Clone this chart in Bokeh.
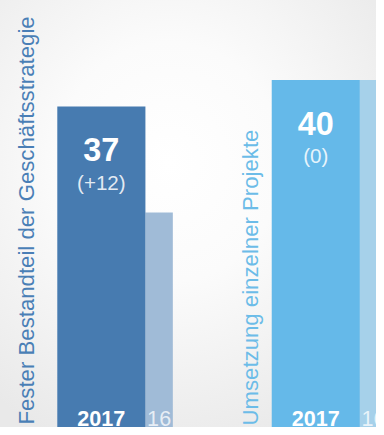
import math
from bokeh.plotting import figure
from bokeh.models import Range1d, ColumnDataSource
from bokeh.core.properties import value
from bokeh.embed import file_html
from bokeh.resources import INLINE

# ---- data ----
categories = ["Fester Bestandteil der Geschäftsstrategie", "Umsetzung einzelner Projekte"]
values_2017 = [37, 40]
values_2016 = [25, 40]
changes = ["(+12)", "(0)"]
year_cur = "2017"
year_prev = "16"

colors_cur = ["#477bb0", "#65b9e9"]
colors_prev = ["#a0bbd7", "#a6d1ea"]
label_colors = ["#4a7fb6", "#6cbce8"]

# ---- geometry ----
W, H = 376, 427
S = H / 435.0                 # overall scale of the layout
GROUP_PX = 219.0              # reference px between groups
W_CUR = 90 / GROUP_PX
W_PREV = 28 / GROUP_PX
PX_PER_VAL = 9.0              # reference px per unit

xs = list(range(len(categories)))
x_cur = [x + W_CUR / 2 for x in xs]
x_prev = [x + W_CUR + W_PREV / 2 for x in xs]

p = figure(width=W, height=H, output_backend="svg", toolbar_location=None,
           x_range=Range1d((0 - 58) / GROUP_PX, (384 - 58) / GROUP_PX),
           y_range=Range1d((441 - 435) / PX_PER_VAL, 441 / PX_PER_VAL),
           min_border=0, min_border_left=0, min_border_right=0,
           min_border_top=0, min_border_bottom=0)
p.xaxis.visible = False
p.yaxis.visible = False
p.grid.visible = False
p.outline_line_color = None
p.background_fill_alpha = 0
p.border_fill_alpha = 0
p.styles = {"background": "radial-gradient(ellipse 75% 70% at 45% 38%, #ffffff 0%, #fbfbfb 40%, #e9e9e9 100%)"}

src = ColumnDataSource(dict(
    x_cur=x_cur, x_prev=x_prev, v_cur=values_2017, v_prev=values_2016,
    c_cur=colors_cur, c_prev=colors_prev, chg=changes,
    vtxt=[str(v) for v in values_2017],
    ycur=[year_cur] * len(xs), yprev=[year_prev] * len(xs),
    zero=[0] * len(xs),
))

p.vbar(x="x_prev", top="v_prev", bottom=-5, width=W_PREV, fill_color="c_prev", line_color=None, source=src)
p.vbar(x="x_cur", top="v_cur", bottom=-5, width=W_CUR, fill_color="c_cur", line_color=None, source=src)

font = value("Liberation Sans")

def fs(px):
    return f"{px * S:.1f}px"

# value labels
p.text(x="x_cur", y="v_cur", text="vtxt", y_offset=44 * S, text_align="center",
       text_baseline="alphabetic", text_font=font, text_font_size=fs(33),
       text_font_style="bold", text_color="white", source=src)
p.text(x="x_cur", y="v_cur", text="chg", y_offset=77 * S, text_align="center",
       text_baseline="alphabetic", text_font=font, text_font_size=fs(21),
       text_color="white", text_alpha=0.85, source=src)

# year labels
p.text(x="x_cur", y="zero", text="ycur", y_offset=-15 * S, text_align="center",
       text_baseline="alphabetic", text_font=font, text_font_size=fs(22),
       text_font_style="bold", text_color="white", source=src)
p.text(x="x_prev", y="zero", text="yprev", y_offset=-15 * S, text_align="center",
       text_baseline="alphabetic", text_font=font, text_font_size=fs(22),
       text_color="white", text_alpha=0.75, source=src)

# vertical category labels (offset from bar left edge, bottom above zero line; reference px)
label_dx = [-31, -22]
label_up = [9, 8]
for i in xs:
    p.text(x=[xs[i] + label_dx[i] / GROUP_PX], y=[label_up[i] / PX_PER_VAL], text=[categories[i]],
           angle=math.pi / 2, text_align="left", text_baseline="alphabetic",
           text_font=font, text_font_size=fs(22.6), text_color=label_colors[i])

open("out.html", "w").write(file_html(p, INLINE))
